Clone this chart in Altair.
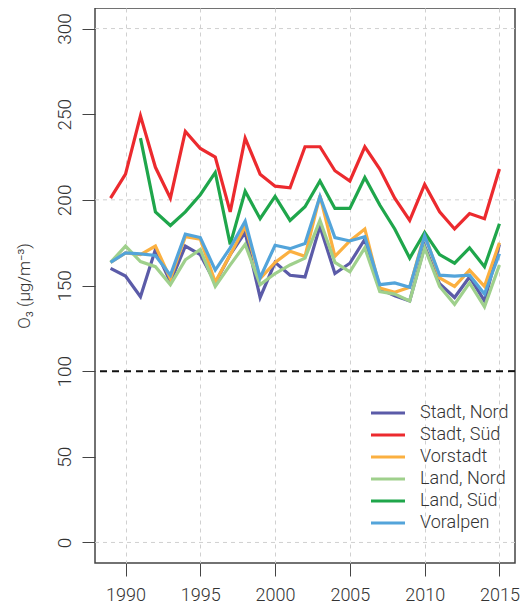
import altair as alt
import pandas as pd

years = list(range(1989, 2016))
series = ["Stadt, Nord", "Stadt, Süd", "Vorstadt", "Land, Nord", "Land, Süd", "Voralpen"]
colors = ["#5b5ba8", "#ec2a2e", "#fbb040", "#9fd08c", "#1fa64b", "#53a4da"]

stadt_nord = [160, 155.5, 143.5, 171, 152, 173, 168, 151.5, 168, 181, 143, 163.5, 156, 155,
              184.5, 157, 163, 177, 148, 144, 141, 173, 151, 143, 155, 141, 174]
stadt_sued = [201, 215, 249, 219, 201, 240, 230, 225, 193, 236, 215, 208, 207, 231,
              231, 217, 211, 231, 218, 201, 188, 209, 193, 183, 192, 189, 218]
vorstadt = [163.5, 169, 168, 173, 154, 178.5, 177, 152, 168, 184.5, 154, 163.5, 170, 167,
            202.5, 167, 176, 183, 148.5, 146, 149, 180, 154.5, 149.5, 159, 149.5, 175]
land_nord = [163.5, 173, 164, 161, 150.5, 165, 171, 149.5, 162, 174, 150.5, 157, 162, 166,
             188, 163.5, 158, 172, 146.5, 145, 141, 172, 149.5, 139, 151.5, 137.5, 162]
land_sued = [None, None, 236, 193, 185, 193, 203, 216, 174, 205, 189, 202, 188, 196,
             211, 195, 195, 213, 197, 183, 166, 181, 168, 163, 172, 161, 186]
voralpen = [163.5, 169, 168.5, 167.5, 156, 180, 178, 159, 172, 187.5, 154.5, 173.5, 171.5, 174.5,
            202, 178, 176, 178.5, 150.5, 151.5, 149, 179, 156, 155.5, 156, 145, 168.5]

x_ticks = [1990, 1995, 2000, 2005, 2010, 2015]
y_ticks = [0, 50, 100, 150, 200, 250, 300]
h_grid = [0, 200, 300]
limit = [100]

rows = []
for name, vals in zip(series, [stadt_nord, stadt_sued, vorstadt, land_nord, land_sued, voralpen]):
    for yr, v in zip(years, vals):
        if v is not None:
            rows.append({"Jahr": yr, "O3": v, "Region": name})
df = pd.DataFrame(rows)

FONT = "Roboto"
TXT = "#333333"
YTITLE = "O₃ (µg/m⁻³)"

yscale = alt.Scale(domain=[-12, 312], nice=False, zero=False)
xscale = alt.Scale(domain=[1987.96, 2016.04], nice=False, zero=False)

yaxis = alt.Axis(values=y_ticks, grid=False, labelAngle=-90, labelAlign="center",
                 labelBaseline="bottom", labelPadding=8, tickSize=13, tickColor="#444",
                 labelFont=FONT, labelFontSize=19, labelFontWeight=300, labelColor=TXT,
                 domain=False,
                 title=YTITLE, titleFont=FONT, titleFontSize=17, titleFontWeight=300,
                 titleColor=TXT, titlePadding=22)

grid = alt.Chart(pd.DataFrame({"O3": h_grid})).mark_rule(
    color="#d0d0d0", strokeDash=[4, 4], strokeWidth=1
).encode(y=alt.Y("O3:Q", scale=yscale, axis=yaxis))

ref = alt.Chart(pd.DataFrame({"O3": limit})).mark_rule(
    color="#111111", strokeDash=[7, 5], strokeWidth=2
).encode(y=alt.Y("O3:Q", scale=yscale, axis=yaxis))

lines = alt.Chart(df).mark_line(strokeWidth=3.2).encode(
    x=alt.X("Jahr:Q", scale=xscale,
            axis=alt.Axis(values=x_ticks, format="d", title=None, grid=True,
                          gridDash=[4, 4], gridColor="#d0d0d0", tickSize=13,
                          tickColor="#444", labelPadding=10, labelFont=FONT,
                          labelFontSize=18, labelFontWeight=300, labelColor=TXT,
                          domain=False)),
    y=alt.Y("O3:Q", scale=yscale, axis=yaxis),
    color=alt.Color("Region:N", scale=alt.Scale(domain=series, range=colors),
                    legend=alt.Legend(title=None, orient="none", legendX=283, legendY=395,
                                      symbolType="M-2,0H2", symbolStrokeWidth=3,
                                      symbolSize=289, labelFont=FONT, labelFontSize=18,
                                      labelFontWeight=300,
                                      labelColor=TXT, labelOffset=22, rowPadding=3)),
)

chart = alt.layer(grid, ref, lines).properties(
    width=420, height=555,
    padding={"left": 87, "top": 0, "right": 5, "bottom": 43},
    autosize=alt.AutoSizeParams(type="none"),
).configure_view(stroke="#444444", strokeWidth=1.5)

chart.save("out.html", embed_options={"renderer": "svg", "actions": False})
